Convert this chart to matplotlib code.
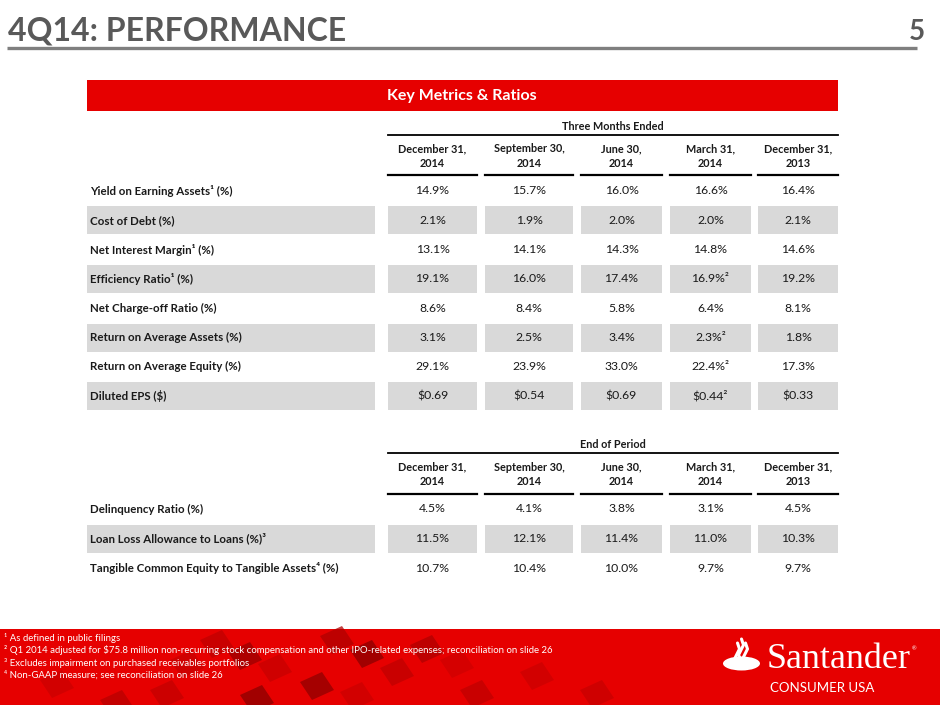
import matplotlib
matplotlib.use("Agg")
import matplotlib.pyplot as plt
from matplotlib.patches import Rectangle, Polygon, Ellipse
from matplotlib.lines import Line2D

plt.rcParams['font.family'] = ['Lato', 'DejaVu Sans']

# ---------------- data ----------------
title = "4Q14: PERFORMANCE"
page_no = "5"
banner = "Key Metrics & Ratios"
group_top = "Three Months Ended"
group_bottom = "End of Period"
periods = ["December 31,\n2014", "September 30,\n2014", "June 30,\n2014",
           "March 31,\n2014", "December 31,\n2013"]

top_labels = ["Yield on Earning Assets¹ (%)", "Cost of Debt (%)",
              "Net Interest Margin¹ (%)", "Efficiency Ratio¹ (%)",
              "Net Charge-off Ratio (%)", "Return on Average Assets (%)",
              "Return on Average Equity (%)", "Diluted EPS ($)"]
yield_ea = [14.9, 15.7, 16.0, 16.6, 16.4]
cost_debt = [2.1, 1.9, 2.0, 2.0, 2.1]
nim = [13.1, 14.1, 14.3, 14.8, 14.6]
efficiency = [19.1, 16.0, 17.4, 16.9, 19.2]
nco = [8.6, 8.4, 5.8, 6.4, 8.1]
roaa = [3.1, 2.5, 3.4, 2.3, 1.8]
roae = [29.1, 23.9, 33.0, 22.4, 17.3]
eps = [0.69, 0.54, 0.69, 0.44, 0.33]
top_units = ["%", "%", "%", "%", "%", "%", "%", "$"]
top_notes = [None, None, None, "²", None, "²", "²", "²"]   # note on Mar 31, 2014 column

bottom_labels = ["Delinquency Ratio (%)", "Loan Loss Allowance to Loans (%)³",
                 "Tangible Common Equity to Tangible Assets⁴ (%)"]
delinquency = [4.5, 4.1, 3.8, 3.1, 4.5]
loan_loss = [11.5, 12.1, 11.4, 11.0, 10.3]
tce = [10.7, 10.4, 10.0, 9.7, 9.7]
bottom_units = ["%", "%", "%"]

footnotes = ["¹ As defined in public filings",
             "² Q1 2014 adjusted for $75.8 million non-recurring stock compensation and other IPO-related expenses; reconciliation on slide 26",
             "³ Excludes impairment on purchased receivables portfolios",
             "⁴ Non-GAAP measure; see reconciliation on slide 26"]

top_values = [yield_ea, cost_debt, nim, efficiency, nco, roaa, roae, eps]
bottom_values = [delinquency, loan_loss, tce]

# ---------------- styling ----------------
RED = "#e60000"
GRAY_CELL = "#d9d9d9"
TITLE_GRAY = "#595959"
TXT = "#1a1a1a"

fig = plt.figure(figsize=(9.4, 7.05), dpi=100)
ax = fig.add_axes([0, 0, 1, 1])
ax.set_xlim(0, 940)
ax.set_ylim(705, 0)
ax.axis("off")

# title
ax.text(8, 40.5, title, fontsize=23, fontweight="bold", color=TITLE_GRAY,
        ha="left", va="baseline")
ax.text(917, 40.5, page_no, fontsize=20, fontweight="bold", color=TITLE_GRAY,
        ha="center", va="baseline")
ax.add_line(Line2D([7, 917], [48, 48], color="#7f7f7f", lw=2.4, solid_capstyle="butt"))

# banner
ax.add_patch(Rectangle((87, 80), 751, 31, color=RED, lw=0))
ax.text(462, 96, banner, fontsize=11.5, fontweight="bold", color="white",
        ha="center", va="center")

col_l = [388, 485, 581, 670, 758]
col_r = [477, 573, 662, 751, 838]
col_c = [(a + b) / 2 for a, b in zip(col_l, col_r)]
lab_l, lab_r = 87, 375


def fmt(v, unit):
    return f"${v:.2f}" if unit == "$" else f"{v:.1f}%"


def draw_table(y_group, y_line1, y_hdr, y_line2, y_row0, pitch, group, labels, values, units, notes):
    ax.text((col_l[0] + col_r[-1]) / 2, y_group, group, fontsize=7.8, fontweight="bold",
            color=TXT, ha="center", va="center")
    ax.add_line(Line2D([col_l[0], col_r[-1]], [y_line1, y_line1], color="black", lw=1.3))
    for i, p in enumerate(periods):
        ax.text(col_c[i], y_hdr, p, fontsize=7.8, fontweight="bold", color=TXT,
                ha="center", va="center", linespacing=1.4)
        ax.add_line(Line2D([col_l[i], col_r[i]], [y_line2, y_line2], color="black", lw=1.6))
    for r, (lab, vals, u) in enumerate(zip(labels, values, units)):
        y = y_row0 + r * pitch
        if r % 2 == 1:
            ax.add_patch(Rectangle((lab_l, y - 14), lab_r - lab_l, 28, color=GRAY_CELL, lw=0))
            for i in range(5):
                ax.add_patch(Rectangle((col_l[i], y - 14), col_r[i] - col_l[i], 28,
                                       color=GRAY_CELL, lw=0))
        ax.text(90, y, lab, fontsize=8.3, fontweight="bold", color=TXT, ha="left", va="center")
        for i, v in enumerate(vals):
            s = fmt(v, u)
            if notes is not None and notes[r] is not None and i == 3:
                s = s + notes[r]
            ax.text(col_c[i], y, s, fontsize=8.8, color=TXT, ha="center", va="center")


draw_table(126, 134.5, 156, 175, 191, 29.3, group_top, top_labels, top_values, top_units, top_notes)
draw_table(444, 453, 474.5, 494, 509, 29.5, group_bottom, bottom_labels, bottom_values, bottom_units, None)

# footer band
ax.add_patch(Rectangle((0, 629), 940, 76, color=RED, lw=0))
# decorative darker tiles (background texture)
tiles = [(200, 640, "#c00000"), (228, 652, "#9a0000"), (258, 664, "#c80000"),
         (320, 636, "#b00000"), (350, 650, "#8a0000"), (380, 668, "#c00000"),
         (410, 645, "#b00000"), (300, 682, "#900000"), (460, 690, "#c00000"),
         (150, 690, "#c40000"), (520, 672, "#cc0000"), (580, 690, "#c80000"),
         (100, 700, "#b80000"), (240, 695, "#8a0000"), (340, 692, "#cc0000"),
         (40, 680, "#cc0000"), (170, 660, "#c80000"), (440, 660, "#d00000")]
for tx, ty, tc in tiles:
    ax.add_patch(Polygon([[tx, ty], [tx + 22, ty - 10], [tx + 34, ty + 8], [tx + 12, ty + 18]],
                         closed=True, color=tc, lw=0, alpha=0.75))

for k, fn in enumerate(footnotes):
    ax.text(4, 638 + k * 12.3, fn, fontsize=6.9, color="white", ha="left", va="center")

# Santander logo emblem
ax.add_patch(Ellipse((741.5, 663.5), 37, 14, color="white", lw=0))
for dx, dy in [(-4, 4), (0, 0), (4, 4)]:
    xs = [741 + dx + o for o in (0, -2.5, 0, 2.5, 0.5)]
    ys = [660 + dy, 655 + dy, 650 + dy, 645 + dy, 639 + dy]
    ax.add_line(Line2D(xs, ys, color="white", lw=2.2, solid_capstyle="round"))
ax.text(767, 668, "Santander", fontsize=26, color="white", family="Liberation Serif",
        ha="left", va="baseline")
ax.text(912, 649, "®", fontsize=4, color="white", ha="left", va="center")
ax.text(822, 688, "CONSUMER USA", fontsize=9.5, color="white", ha="center", va="center")

fig.savefig("out.png", dpi=100)
